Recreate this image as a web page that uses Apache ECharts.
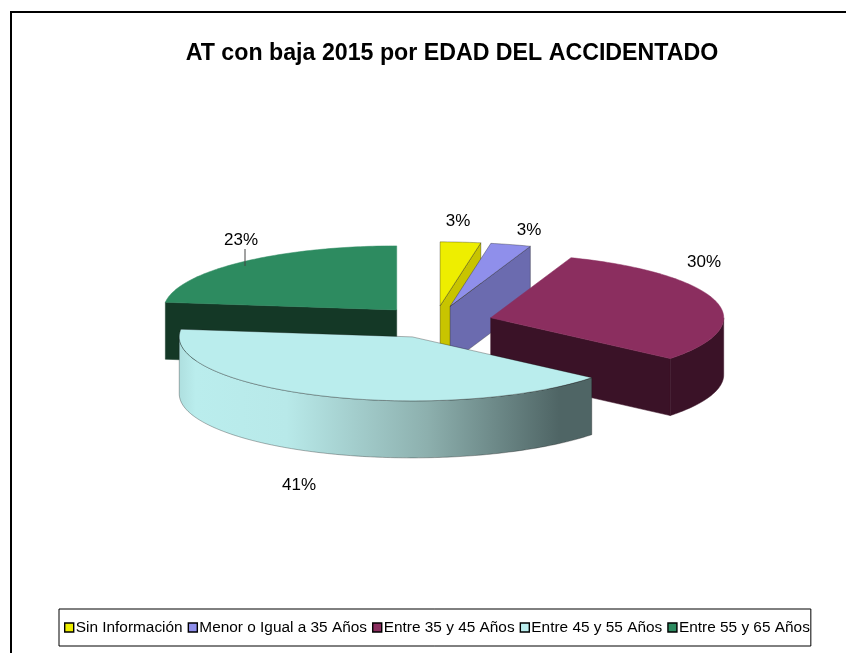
<!DOCTYPE html>
<html>
<head>
<meta charset="utf-8">
<style>
    html, body { margin: 0; padding: 0; background: #fff; }
    #chart { width: 846px; height: 653px; }
</style>
<script src="https://cdn.jsdelivr.net/npm/echarts@6/dist/echarts.min.js"></script>
</head>
<body>
<div id="chart"></div>
<script>
const titleText = 'AT con baja 2015 por EDAD DEL ACCIDENTADO';
const categories = ['Sin Información', 'Menor o Igual a 35 Años', 'Entre 35 y 45 Años', 'Entre 45 y 55 Años', 'Entre 55 y 65 Años'];
const values = [2.8, 2.8, 30.4, 40.9, 23.1];
const topColors = ['#EEEE00', '#8F8FEB', '#8B2E5F', '#BAEDED', '#2D8B60'];
const sideColors = ['#C8C400', '#6B6BAF', '#3A1227', '#BAEDED', '#143826'];
const outlined = [true, true, false, true, false];
const paintOrder = [4, 0, 1, 2, 3];
// label anchors, same order as categories
const labelAnchors = [[458, 221], [529, 230], [704, 262], [299, 485], [241, 240]];

const pie = { cx: 435, cy: 322, rx: 233, ry: 64, depth: 57, explodeX: 57.7, explodeY: 16.2 };
const total = values.reduce((a, b) => a + b, 0);

function sliceAngles(idx) {
    let before = 0;
    for (let i = 0; i < idx; ++i) before += values[i];
    return [before / total * 360, (before + values[idx]) / total * 360];
}

function rimPoint(ox, oy, deg, dy) {
    const r = deg * Math.PI / 180;
    return [ox + pie.rx * Math.sin(r), oy - pie.ry * Math.cos(r) + dy];
}

function arcPoints(ox, oy, from, to, dy) {
    const pts = [];
    const steps = Math.max(2, Math.ceil(Math.abs(to - from)));
    for (let i = 0; i <= steps; ++i) {
        pts.push(rimPoint(ox, oy, from + (to - from) * i / steps, dy));
    }
    return pts;
}

function face(points, fill, idx) {
    const edge = outlined[idx]
        ? { stroke: 'rgba(20,20,20,0.55)', lineWidth: 0.6 }
        : { stroke: fill, lineWidth: 0.5 };
    return { type: 'polygon', shape: { points }, style: { fill, ...edge } };
}

function rimFill(idx) {
    if (idx !== 3) return sideColors[idx];
    return new echarts.graphic.LinearGradient(0, 0, 1, 0, [
        { offset: 0, color: '#AEDFDF' },
        { offset: 0.04, color: '#BAEDED' },
        { offset: 0.26, color: '#B8E9E9' },
        { offset: 0.6, color: '#8DB0AE' },
        { offset: 0.92, color: '#4F6565' },
        { offset: 1, color: '#4F6565' },
    ]);
}

function renderSlice(idx) {
    const [a, b] = sliceAngles(idx);
    const mid = (a + b) / 2 * Math.PI / 180;
    const ox = pie.cx + pie.explodeX * Math.sin(mid);
    const oy = pie.cy - pie.explodeY * Math.cos(mid);
    const children = [];

    // start and end walls, only when they turn to the viewer
    if (a > 180 && a < 360) {
        const p = rimPoint(ox, oy, a, 0);
        children.push(face([[ox, oy], p, [p[0], p[1] + pie.depth], [ox, oy + pie.depth]], sideColors[idx], idx));
    }
    if (b > 0 && b < 180) {
        const p = rimPoint(ox, oy, b, 0);
        children.push(face([[ox, oy], p, [p[0], p[1] + pie.depth], [ox, oy + pie.depth]], sideColors[idx], idx));
    }

    // outer wall, front half of the ellipse
    const from = Math.max(a, 90);
    const to = Math.min(b, 270);
    if (to > from) {
        const rim = arcPoints(ox, oy, from, to, 0).concat(arcPoints(ox, oy, to, from, pie.depth));
        children.push(face(rim, rimFill(idx), idx));
    }

    children.push(face([[ox, oy]].concat(arcPoints(ox, oy, a, b, 0)), topColors[idx], idx));

    const [lx, ly] = labelAnchors[idx];
    children.push({
        type: 'text',
        style: {
            x: lx,
            y: ly,
            text: `${Math.round(values[idx] / total * 100)}%`,
            fill: '#000',
            font: '17px "Liberation Sans"',
            align: 'center',
            verticalAlign: 'middle',
        },
    });

    // only the green slice has a leader line
    if (idx === 4) {
        children.push({
            type: 'line',
            shape: { x1: lx + 4, y1: ly + 9, x2: lx + 4, y2: ly + 26 },
            style: { stroke: '#444', lineWidth: 1 },
        });
    }
    return { type: 'group', children };
}

const series = categories.map((name, idx) => ({
    type: 'custom',
    name,
    coordinateSystem: 'none',
    z: 2 + paintOrder.indexOf(idx),
    silent: true,
    itemStyle: { color: topColors[idx] },
    data: [values[idx]],
    renderItem: () => renderSlice(idx),
}));

const chart = echarts.init(document.getElementById('chart'), null, { renderer: 'canvas' });
chart.setOption({
    animation: false,
    backgroundColor: '#fff',
    title: {
        text: titleText,
        left: 447,
        top: 37,
        textAlign: 'center',
        textStyle: { fontFamily: 'Liberation Sans', fontWeight: 'bold', fontSize: 23.2, color: '#000' },
    },
    legend: {
        data: categories,
        left: 59,
        top: 609,
        orient: 'horizontal',
        padding: [11, 1, 11, 5],
        itemGap: 5,
        itemWidth: 9,
        itemHeight: 9,
        borderColor: '#000',
        borderWidth: 1,
        borderRadius: 0,
        selectedMode: false,
        icon: 'rect',
        itemStyle: { borderColor: '#000', borderWidth: 1.4 },
        textStyle: { fontFamily: 'Liberation Sans', fontSize: 15.4, color: '#000', padding: [0, 0, 0, -3] },
    },
    graphic: [
        { type: 'line', shape: { x1: 10, y1: 12, x2: 846, y2: 12 }, style: { stroke: '#000', lineWidth: 2 } },
        { type: 'line', shape: { x1: 11, y1: 11, x2: 11, y2: 653 }, style: { stroke: '#000', lineWidth: 2 } },
    ],
    series,
});
</script>
</body>
</html>
